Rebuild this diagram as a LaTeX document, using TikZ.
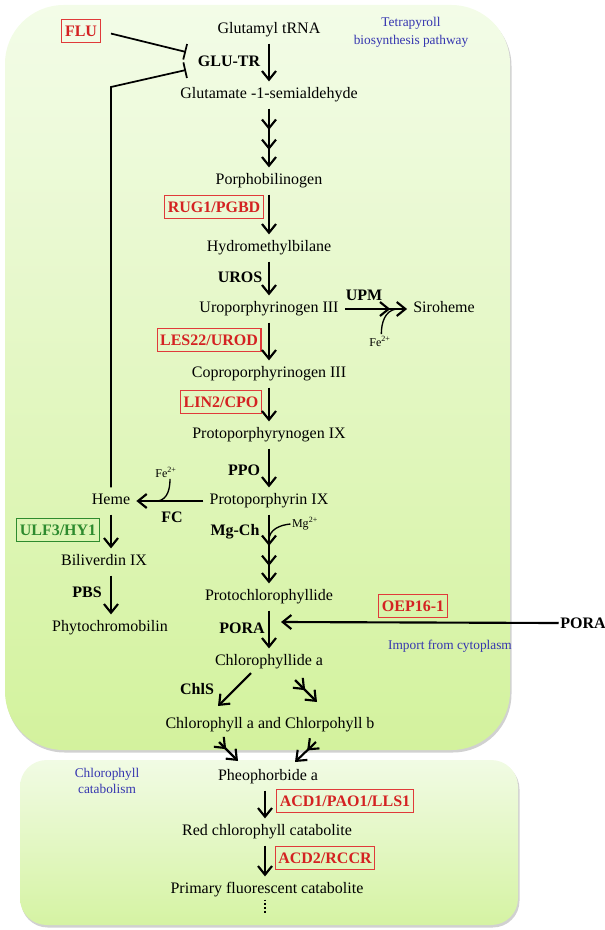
\documentclass[tikz,border=0pt]{standalone}
\usepackage{fontspec}
\setmainfont{Liberation Serif}
\usetikzlibrary{arrows.meta,calc}
\definecolor{redt}{HTML}{D42222}
\definecolor{redb}{HTML}{E03A3A}
\definecolor{greent}{HTML}{2E8B2E}
\definecolor{bluet}{HTML}{3535B0}
\definecolor{gtop}{HTML}{F3FCE8}
\definecolor{gbot}{HTML}{D3F29D}
\definecolor{ctop}{HTML}{F1FBE4}
\definecolor{cbot}{HTML}{D5F3A3}
\begin{document}
\begin{tikzpicture}[x=0.75pt,y=-0.75pt,
  txt/.style={font=\fontsize{12}{14}\selectfont, text height=8.4pt, text depth=2.6pt, inner xsep=4.5pt, inner ysep=4.5pt},
  lab/.style={font=\fontsize{12}{14}\selectfont\bfseries, inner sep=1pt},
  rbox/.style={draw=redb, line width=0.8pt, text=redt, font=\fontsize{12}{14}\selectfont\bfseries, inner xsep=2.3pt, inner ysep=0pt, minimum height=17.5pt, text height=8.2pt, text depth=0.5pt},
  gbox/.style={rbox, draw=greent, text=greent},
  blue/.style={text=bluet, font=\fontsize{10}{13.5}\selectfont, align=center, inner sep=0pt},
  small/.style={font=\fontsize{9}{10}\selectfont, inner sep=1pt},
  tp/.tip={Straight Barb[length=6.5pt,width=10.5pt]},
  arr/.style={line width=1.6pt, -{tp}},
  arrtwo/.style={line width=1.6pt, -{Straight Barb[length=6.5pt,width=10.5pt,sep=4pt]Straight Barb[length=6.5pt,width=10.5pt]}},
  arrthree/.style={line width=1.6pt, -{Straight Barb[length=6.5pt,width=10.5pt,sep=6.5pt]Straight Barb[length=6.5pt,width=10.5pt,sep=4.5pt]Straight Barb[length=6.5pt,width=10.5pt]}},
  inh/.style={line width=1.3pt, -{Bar[width=12pt,line width=1.3pt]}},
  thin/.style={line width=1pt}]
\useasboundingbox (0,0) rectangle (604,930);
% compartments
\fill[black!18, rounded corners=44pt] (6,7.5) rectangle (511.5,752.5);
\shade[top color=gtop, bottom color=gbot, rounded corners=44pt] (5,5) rectangle (510,750);
\fill[black!18, rounded corners=20pt] (21,762.5) rectangle (519.5,927.5);
\shade[top color=ctop, bottom color=cbot, rounded corners=20pt] (20,760) rectangle (518,925);

% main chain
\node[txt] (glut) at (269,30) {Glutamyl tRNA};
\node[txt] (gsa) at (269,95) {Glutamate -1-semialdehyde};
\node[txt] (pbg) at (269,181) {Porphobilinogen};
\node[txt] (hmb) at (269,248) {Hydromethylbilane};
\node[txt] (uro) at (269,309) {Uroporphyrinogen III};
\node[txt] (copro) at (269,374) {Coproporphyrinogen III};
\node[txt] (protogen) at (269,435) {Protoporphyrynogen IX};
\node[txt] (proto) at (269,501) {Protoporphyrin IX};
\node[txt] (pchlide) at (269,597) {Protochlorophyllide};
\node[txt] (chlide) at (269,662) {Chlorophyllide a};
\node[txt] (chl) at (270,725) {Chlorophyll a and Chlorpohyll b};
\node[txt] (pheo) at (268,777) {Pheophorbide a};
\node[txt] (rcc) at (267,832) {Red chlorophyll catabolite};
\node[txt] (pfcc) at (267,890) {Primary fluorescent catabolite};
% side products
\node[txt] (siro) at (444,309) {Siroheme};
\node[txt] (heme) at (111,501) {Heme};
\node[txt] (bv) at (104,562) {Biliverdin IX};
\node[txt] (phyto) at (110,628) {Phytochromobilin};
\node[lab] (porar) at (583,623) {PORA};
% enzyme labels
\node[lab] (glutr) at (229,61) {GLU-TR};
\node[lab] (uros) at (240,277) {UROS};
\node[lab] (upm) at (364,295) {UPM};
\node[lab] (ppo) at (244,470) {PPO};
\node[lab] (fc) at (172,517) {FC};
\node[lab] (mgch) at (235,532) {Mg-Ch};
\node[lab] (pbs) at (87,592) {PBS};
\node[lab] (poral) at (242,628) {PORA};
\node[lab] (chls) at (197,689) {ChlS};
% boxed genes
\node[rbox] (flu) at (81,31) {FLU};
\node[rbox] (rug) at (214,207) {RUG1/PGBD};
\node[rbox] (les) at (209,340) {LES22/UROD};
\node[rbox] (lin) at (221,402) {LIN2/CPO};
\node[rbox] (oep) at (413,606) {OEP16-1};
\node[rbox] (acda) at (345,801) {ACD1/PAO1/LLS1};
\node[rbox] (acdb) at (325,858) {ACD2/RCCR};
\node[gbox] (ulf) at (58,530) {ULF3/HY1};
% blue captions
\node[blue] (tetra) at (411,32) {Tetrapyroll\\biosynthesis pathway};
\node[blue] (import) at (450,646) {Import from cytoplasm};
\node[blue, font=\fontsize{10}{11.5}\selectfont] (catab) at (107,781) {Chlorophyll\\catabolism};
% ions
\node[small] (fea) at (380,341) {Fe\textsuperscript{2+}};
\node[small] (feb) at (166,472) {Fe\textsuperscript{2+}};
\node[small] (mg) at (305,524) {Mg\textsuperscript{2+}};

% helper coordinates
\coordinate (inha) at (186,52);
\coordinate (inhb) at (186,70);
\coordinate (hk) at (111,87);
\coordinate (imp) at (281,622);
\coordinate (upmj) at (396,309);
\coordinate (fcj) at (158,501);
\coordinate (mgj) at (269,540);
\coordinate (bx) at (265,0);
\coordinate (dend) at (265,913);
\coordinate (cas) at (251,673);
\coordinate (cae) at (218,706);
\coordinate (cbs) at (295,680);
\coordinate (cbe) at (317,702);
\coordinate (pas) at (219,742);
\coordinate (pae) at (238,761);
\coordinate (pbs2) at (316,742);
\coordinate (pbe) at (295,762);

% connectors
\draw[arr] (glut.south) -- (gsa.north);
\draw[arrthree] (gsa.south) -- (pbg.north);
\draw[arr] (pbg.south) -- (hmb.north);
\draw[arr] (hmb.south) -- (uro.north);
\draw[arr] (uro.south) -- (copro.north);
\draw[arr] (copro.south) -- (protogen.north);
\draw[arr] (protogen.south) -- (proto.north);
\draw[arrthree] (proto.south) -- (pchlide.north);
\draw[arr] (pchlide.south) -- (chlide.north);
\draw[arrtwo] (uro.east) -- (siro.west);
\draw[arr] (proto.west) -- (heme.east);
\draw[arr] (heme.south) -- (heme.south |- bv.north);
\draw[arr] (heme.south |- bv.south) -- (heme.south |- phyto.north);
\draw[inh] (heme.north) -- (hk) -- (inhb);
\draw[inh, shorten <=8pt] (flu.east) -- (inha);
\draw[arr] (porar.west) -- (imp);
\draw[arr] (cas) -- (cae);
\draw[arrtwo] (cbs) -- (cbe);
\draw[arrtwo] (pas) -- (pae);
\draw[arrtwo] (pbs2) -- (pbe);
\draw[arr] (pheo.south -| bx) -- (rcc.north -| bx);
\draw[arr] (rcc.south -| bx) -- (pfcc.north -| bx);
\draw[line width=1.3pt, dash pattern=on 1.3pt off 1.5pt] ([yshift=3pt]pfcc.south -| bx) -- (dend);
% ion curves
\draw[thin] ([xshift=1pt]fea.north) to[out=90,in=190] (upmj);
\draw[thin] ([xshift=3pt]feb.south) to[out=-90,in=10] (fcj);
\draw[thin] (mg.west) to[out=185,in=90] (mgj);
\end{tikzpicture}
\end{document}
